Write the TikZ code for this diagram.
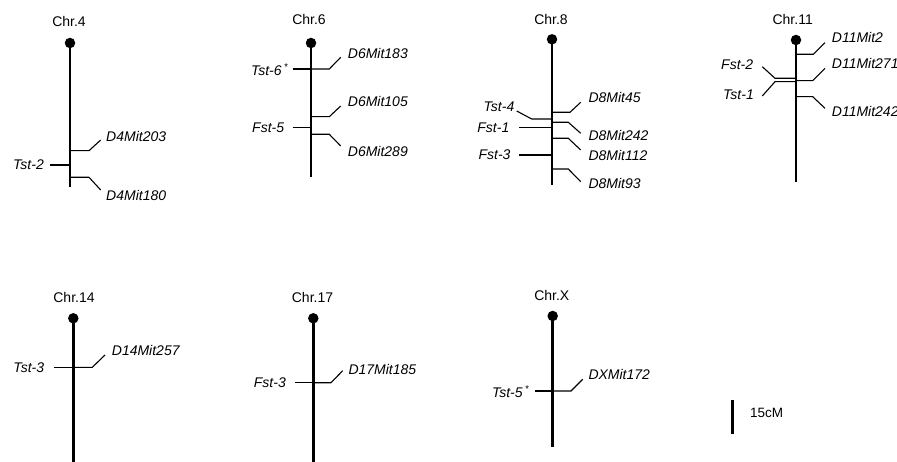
\documentclass[tikz,border=0pt]{standalone}
\usepackage{fontspec}
\setmainfont{Liberation Sans}
\begin{document}
\begin{tikzpicture}[x=1pt,y=-1pt,
  chrline/.style={line width=2.9pt},
  cen/.style={circle,fill=black,inner sep=0pt,minimum size=10.5pt},
  tick/.style={line width=1.1pt},
  chrlab/.style={font=\fontsize{14}{16}\selectfont, inner sep=0pt},
  mk/.style={font=\fontsize{14}{16}\selectfont\itshape, inner sep=0pt},
  mkr/.style={mk, anchor=west},
  mkl/.style={mk, anchor=east},
]
\useasboundingbox (0,0) rectangle (897,462);

% ---------- Chr.4 ----------
\node[chrlab] (t4) at (69,21) {Chr.4};
\node[cen] (c4) at (70,43) {};
\coordinate (b4) at (70,187);
\draw[chrline] (c4.center) -- (b4);
\node[mkr] (l4a) at (106,136.7) {D4Mit203};
\node[mkl] (l4b) at (44,165) {Tst-2};
\node[mkr] (l4c) at (106,195) {D4Mit180};
\draw[tick] (70,150.7) coordinate (p4a) -- (89,150.7) coordinate (e4a) -- (100.7,140) coordinate (d4a);
\draw[tick] (50,165) coordinate (q4b) -- (70,165) coordinate (p4b);
\draw[tick] (70,177.3) coordinate (p4c) -- (89,177.3) coordinate (e4c) -- (100.7,190) coordinate (d4c);

% ---------- Chr.6 ----------
\node[chrlab] (t6) at (309,19) {Chr.6};
\node[cen] (c6) at (311,43) {};
\coordinate (b6) at (311,177);
\draw[chrline] (c6.center) -- (b6);
\node[mkr] (l6a) at (347.7,53.3) {D6Mit183};
\node[mkl] (l6b) at (288.5,70) {Tst-6\,\textsuperscript{*}};
\node[mkr] (l6c) at (347.7,101.7) {D6Mit105};
\node[mkl] (l6d) at (284.3,127.7) {Fst-5};
\node[mkr] (l6e) at (347.7,151) {D6Mit289};
\draw[tick] (311,69) coordinate (p6a) -- (329.3,69) coordinate (e6a) -- (340.7,57.3) coordinate (d6a);
\draw[tick] (292.7,69) coordinate (q6b) -- (311,69) coordinate (p6b);
\draw[tick] (311,116.7) coordinate (p6c) -- (329.3,116.7) coordinate (e6c) -- (340.7,106) coordinate (d6c);
\draw[tick] (292.7,127.7) coordinate (q6d) -- (311,127.7) coordinate (p6d);
\draw[tick] (311,134.3) coordinate (p6e) -- (329.3,134.3) coordinate (e6e) -- (340.7,146) coordinate (d6e);

% ---------- Chr.8 ----------
\node[chrlab] (t8) at (551,19.3) {Chr.8};
\node[cen] (c8) at (552,39.3) {};
\coordinate (b8) at (552,185);
\draw[chrline] (c8.center) -- (b8);
\node[mkr] (l8a) at (588.3,97.3) {D8Mit45};
\node[mkl] (l8b) at (514.5,106.7) {Tst-4};
\node[mkr] (l8c) at (588.3,135.7) {D8Mit242};
\node[mkl] (l8d) at (509.5,127.7) {Fst-1};
\node[mkr] (l8e) at (588.3,155) {D8Mit112};
\node[mkl] (l8f) at (510.7,155) {Fst-3};
\node[mkr] (l8g) at (588.3,183.3) {D8Mit93};
\draw[tick] (552,112.3) coordinate (p8a) -- (570,112.3) coordinate (e8a) -- (580.7,102.3) coordinate (d8a);
\draw[tick] (552,119) coordinate (p8b) -- (531.7,119) coordinate (e8b) -- (516.7,111) coordinate (d8b);
\draw[tick] (552,122.3) coordinate (p8c) -- (568.3,122.3) coordinate (e8c) -- (580.7,133.3) coordinate (d8c);
\draw[tick] (519.3,127.7) coordinate (q8d) -- (552,127.7) coordinate (p8d);
\draw[tick] (552,138.3) coordinate (p8e) -- (568.3,138.3) coordinate (e8e) -- (580.7,150) coordinate (d8e);
\draw[tick] (519.3,155) coordinate (q8f) -- (552,155) coordinate (p8f);
\draw[tick] (552,169) coordinate (p8g) -- (568.3,169) coordinate (e8g) -- (580.7,181.7) coordinate (d8g);

% ---------- Chr.11 ----------
\node[chrlab] (t11) at (792.7,19) {Chr.11};
\node[cen] (c11) at (796,40) {};
\coordinate (b11) at (796,181.7);
\draw[chrline] (c11.center) -- (b11);
\node[mkr] (l11a) at (831.7,37.3) {D11Mit2};
\node[mkl] (l11b) at (753.3,64.3) {Fst-2};
\node[mkl] (l11c) at (754,94.3) {Tst-1};
\node[mkr] (l11d) at (831.7,63.3) {D11Mit271};
\node[mkr] (l11e) at (831.7,111) {D11Mit242};
\draw[tick] (796,54.3) coordinate (p11a) -- (813.3,54.3) coordinate (e11a) -- (825,42.7) coordinate (d11a);
\draw[tick] (796,78.3) coordinate (p11b) -- (775,78.3) coordinate (e11b) -- (762.3,66.7) coordinate (d11b);
\draw[tick] (796,81.7) coordinate (p11c) -- (775,81.7) coordinate (e11c) -- (762.3,96) coordinate (d11c);
\draw[tick] (796,80.7) coordinate (p11d) -- (812.7,80.7) coordinate (e11d) -- (825,68.3) coordinate (d11d);
\draw[tick] (796,96.7) coordinate (p11e) -- (812.7,96.7) coordinate (e11e) -- (825,108.3) coordinate (d11e);

% ---------- Chr.14 ----------
\node[chrlab] (t14) at (74,297.3) {Chr.14};
\node[cen] (c14) at (73.3,318.3) {};
\coordinate (b14) at (73.3,462);
\draw[chrline] (c14.center) -- (b14);
\node[mkr] (l14a) at (111.7,350) {D14Mit257};
\node[mkl] (l14b) at (44.3,367.3) {Tst-3};
\draw[tick] (73.3,367.3) coordinate (p14a) -- (92.3,367.3) coordinate (e14a) -- (105,355) coordinate (d14a);
\draw[tick] (54,367.3) coordinate (q14b) -- (73.3,367.3) coordinate (p14b);

% ---------- Chr.17 ----------
\node[chrlab] (t17) at (312.5,297) {Chr.17};
\node[cen] (c17) at (313.3,318.3) {};
\coordinate (b17) at (313.3,462);
\draw[chrline] (c17.center) -- (b17);
\node[mkr] (l17a) at (348.3,369.3) {D17Mit185};
\node[mkl] (l17b) at (286,382.7) {Fst-3};
\draw[tick] (313.3,382.7) coordinate (p17a) -- (331,382.7) coordinate (e17a) -- (342.7,370.7) coordinate (d17a);
\draw[tick] (295,382.7) coordinate (q17b) -- (313.3,382.7) coordinate (p17b);

% ---------- Chr.X ----------
\node[chrlab] (tX) at (551.8,295) {Chr.X};
\node[cen] (cX) at (552.7,316) {};
\coordinate (bX) at (552.7,446.7);
\draw[chrline] (cX.center) -- (bX);
\node[mkr] (lXa) at (588.3,374.3) {DXMit172};
\node[mkl] (lXb) at (529.5,391.7) {Tst-5\,\textsuperscript{*}};
\draw[tick] (552.7,391) coordinate (pXa) -- (571,391) coordinate (eXa) -- (582.7,379.3) coordinate (dXa);
\draw[tick] (535,391) coordinate (qXb) -- (552.7,391) coordinate (pXb);

% ---------- scale bar ----------
\coordinate (s1) at (732.3,400);
\coordinate (s2) at (732.3,434);
\draw[line width=2.9pt] (s1) -- (s2);
\node[chrlab, anchor=west, font=\fontsize{13.5}{16}\selectfont] (sl) at (750,413.3) {15cM};
\end{tikzpicture}
\end{document}
